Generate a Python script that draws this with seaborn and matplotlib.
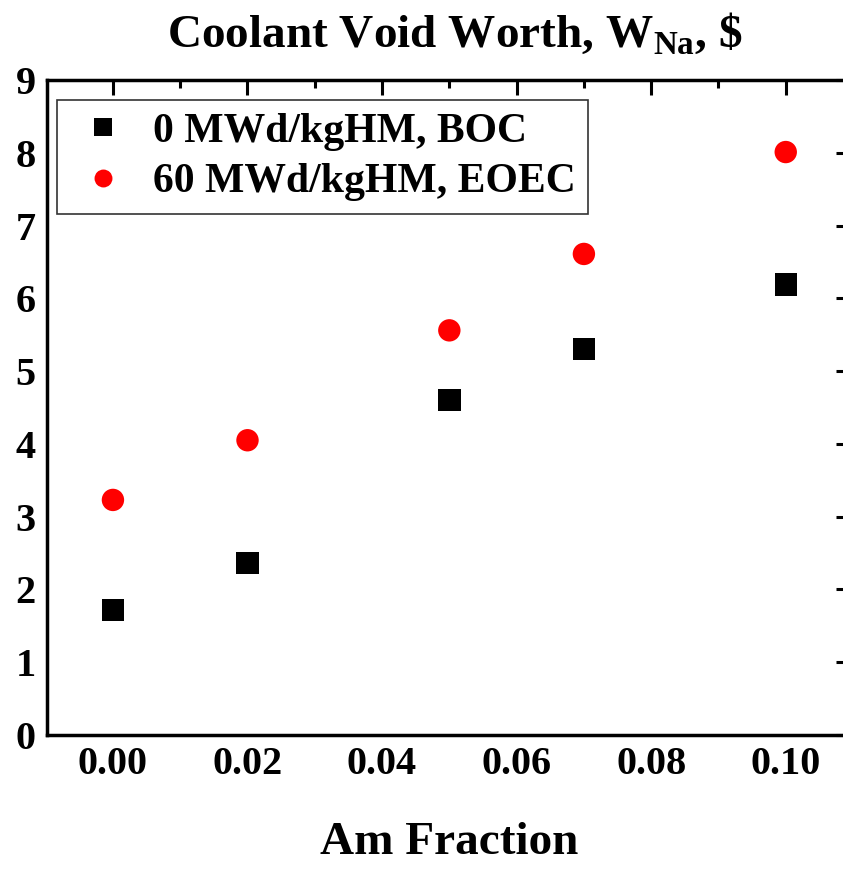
import matplotlib
matplotlib.use("Agg")
import matplotlib.pyplot as plt
import seaborn as sns
import pandas as pd
from matplotlib.ticker import MultipleLocator

am_fraction = [0.00, 0.02, 0.05, 0.07, 0.10]
boc_values = [1.72, 2.36, 4.60, 5.30, 6.19]
eoec_values = [3.23, 4.05, 5.56, 6.61, 8.01]
series_names = ["0 MWd/kgHM, BOC", "60 MWd/kgHM, EOEC"]
x_ticks = [0.00, 0.02, 0.04, 0.06, 0.08, 0.10]
y_ticks = list(range(0, 10))

df = pd.DataFrame({
    "Am": am_fraction * 2,
    "W": boc_values + eoec_values,
    "series": [series_names[0]] * len(am_fraction) + [series_names[1]] * len(am_fraction),
})

sns.set_style("white")
plt.rcParams["font.family"] = ["Liberation Serif", "DejaVu Serif"]
plt.rcParams["font.weight"] = "bold"
plt.rcParams["text.color"] = "black"
plt.rcParams["axes.labelcolor"] = "black"
plt.rcParams["xtick.color"] = "black"
plt.rcParams["ytick.color"] = "black"
plt.rcParams["mathtext.fontset"] = "custom"
plt.rcParams["mathtext.rm"] = "Liberation Serif:bold"
plt.rcParams["mathtext.bf"] = "Liberation Serif:bold"

fig = plt.figure(figsize=(8.43, 8.69), dpi=100)
L, R, T, B = 47, 851, 80, 735
ax = fig.add_axes([L/843, 1-B/869, (R-L)/843, (B-T)/869])

sns.scatterplot(data=df, x="Am", y="W", hue="series", style="series",
                palette=["black", "red"], markers=["s", "o"], s=260,
                edgecolor="none", ax=ax, legend=True)

ax.set_xlim(-0.0098, 0.1097)
ax.set_ylim(0, 9)
ax.set_xticks(x_ticks)
ax.set_xticklabels([f"{v:.2f}" for v in x_ticks])
ax.set_yticks(y_ticks)
ax.xaxis.set_minor_locator(MultipleLocator(0.01))
ax.yaxis.set_minor_locator(MultipleLocator(0.5))
ax.tick_params(which="both", direction="in", top=True, right=True, width=2.2, colors="black")
ax.tick_params(which="major", length=11, labelsize=29, pad=8)
ax.tick_params(which="minor", length=6)
for lab in ax.get_xticklabels() + ax.get_yticklabels():
    lab.set_fontweight("bold")
for sp in ax.spines.values():
    sp.set_linewidth(2.5)
    sp.set_color("black")

ax.set_xlabel("Am Fraction", fontsize=34, fontweight="bold", labelpad=28)
ax.set_ylabel("")
fig.text(0.54, 0.962, r"Coolant Void Worth, W$_{\mathrm{Na}}$, \$", ha="center", va="center",
         fontsize=34, fontweight="bold")

leg = ax.legend(loc="upper left", bbox_to_anchor=(10/804, 1-20/655), borderaxespad=0,
                fontsize=30, frameon=True, fancybox=False, edgecolor="black", markerscale=0.8,
                handletextpad=0.4, borderpad=0.3, labelspacing=0.3, handlelength=1.6)
leg.get_frame().set_linewidth(1.2)
for t in leg.get_texts():
    t.set_fontweight("bold")

fig.savefig("out.png", dpi=100)
